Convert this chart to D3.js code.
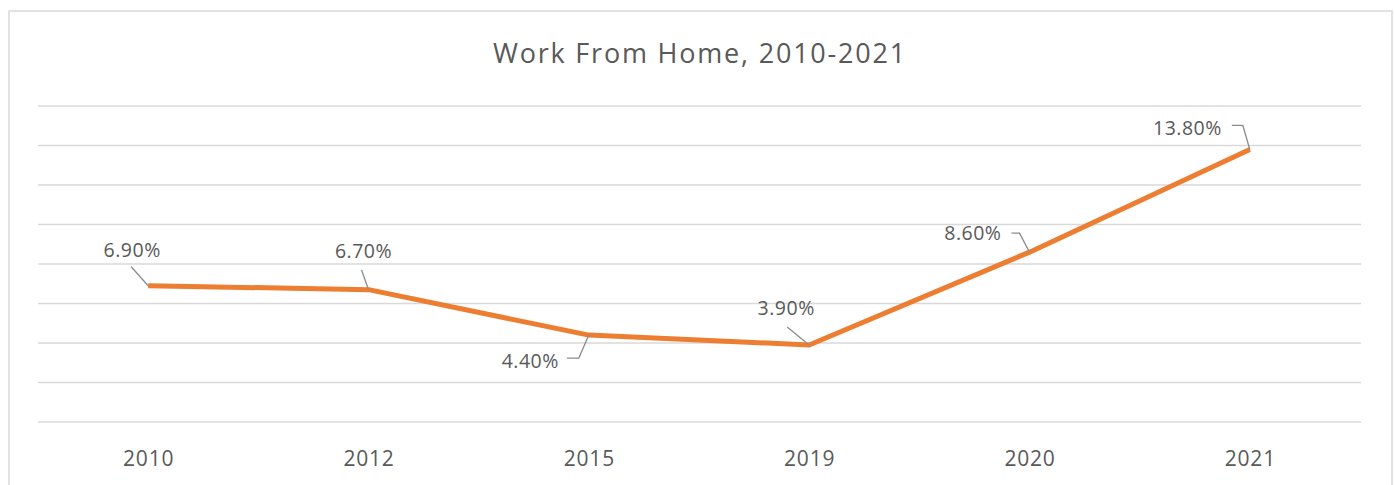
<!DOCTYPE html>
<html>
<head>
<meta charset="utf-8">
<script src="https://cdn.jsdelivr.net/npm/d3@7"></script>
<style>
  html, body { margin: 0; padding: 0; background: #fff; }
  svg { display: block; font-family: "Open Sans", "Noto Sans", sans-serif; }
</style>
</head>
<body>
<svg id="chart" width="1395" height="485"></svg>
<script>
  const years = ["2010", "2012", "2015", "2019", "2020", "2021"];
  const shares = [6.9, 6.7, 4.4, 3.9, 8.6, 13.8];
  const gridTicks = [0, 2, 4, 6, 8, 10, 12, 14, 16];
  const title = "Work From Home, 2010-2021";

  // label placement relative to its point; leader starts at (lx, ly), optional elbow at ex
  const labelLayout = [
    { dx: -16, dy: -29, anchor: "middle", lx: -17, ly: -19 },
    { dx: -5, dy: -32, anchor: "middle", lx: -7, ly: -20 },
    { dx: -30, dy: 33, anchor: "end", lx: -22, ly: 23, ex: -10 },
    { dx: -23, dy: -30, anchor: "middle", lx: -22, ly: -18 },
    { dx: -28, dy: -12, anchor: "end", lx: -18, ly: -19, ex: -10 },
    { dx: -28, dy: -14, anchor: "end", lx: -18, ly: -24, ex: -7 },
  ];

  const textColor = "#595959";
  const gridColor = "#d9d9d9";
  const lineColor = "#ed7d31";

  const svg = d3.select("#chart");

  svg.append("rect")
    .attr("x", 9).attr("y", 11)
    .attr("width", 1383).attr("height", 490)
    .attr("fill", "#fff")
    .attr("stroke", gridColor)
    .attr("stroke-width", 1.5);

  const x = d3.scalePoint().domain(years).range([38, 1360]).padding(0.5);
  const y = d3.scaleLinear().domain([0, 16]).range([422, 106]);

  svg.append("text")
    .attr("x", 700).attr("y", 63)
    .attr("text-anchor", "middle")
    .attr("font-size", 27)
    .attr("letter-spacing", 1.8)
    .attr("fill", textColor)
    .text(title);

  svg.append("g")
    .selectAll("line")
    .data(gridTicks)
    .join("line")
    .attr("x1", 38).attr("x2", 1361)
    .attr("y1", (d) => y(d)).attr("y2", (d) => y(d))
    .attr("stroke", gridColor)
    .attr("stroke-width", 1.5);

  const xAxis = svg.append("g")
    .attr("transform", `translate(0,${y(0)})`)
    .call(d3.axisBottom(x).tickSize(0).tickPadding(29));
  xAxis.select(".domain").remove();
  xAxis.selectAll("text")
    .attr("font-family", "Open Sans, sans-serif")
    .attr("font-size", 21)
    .attr("letter-spacing", 0.8)
    .attr("fill", textColor);

  const points = years.map((yr, i) => ({ year: yr, value: shares[i], layout: labelLayout[i] }));

  svg.append("path")
    .datum(points)
    .attr("fill", "none")
    .attr("stroke", lineColor)
    .attr("stroke-width", 5)
    .attr("stroke-linejoin", "round")
    .attr("d", d3.line().x((d) => x(d.year)).y((d) => y(d.value)));

  const labels = svg.append("g")
    .selectAll("g")
    .data(points)
    .join("g");

  labels.append("path")
    .attr("fill", "none")
    .attr("stroke", "#8c8c8c")
    .attr("stroke-width", 1.3)
    .attr("d", (d) => {
      const px = x(d.year);
      const py = y(d.value);
      const l = d.layout;
      const start = `M${px + l.lx},${py + l.ly}`;
      const elbow = l.ex != null ? `L${px + l.ex},${py + l.ly}` : "";
      return `${start}${elbow}L${px},${py}`;
    });

  labels.append("text")
    .attr("x", (d) => x(d.year) + d.layout.dx)
    .attr("y", (d) => y(d.value) + d.layout.dy)
    .attr("text-anchor", (d) => d.layout.anchor)
    .attr("font-size", 19.5)
    .attr("letter-spacing", 0.5)
    .attr("fill", textColor)
    .text((d) => d3.format(".2f")(d.value) + "%");
</script>
</body>
</html>
